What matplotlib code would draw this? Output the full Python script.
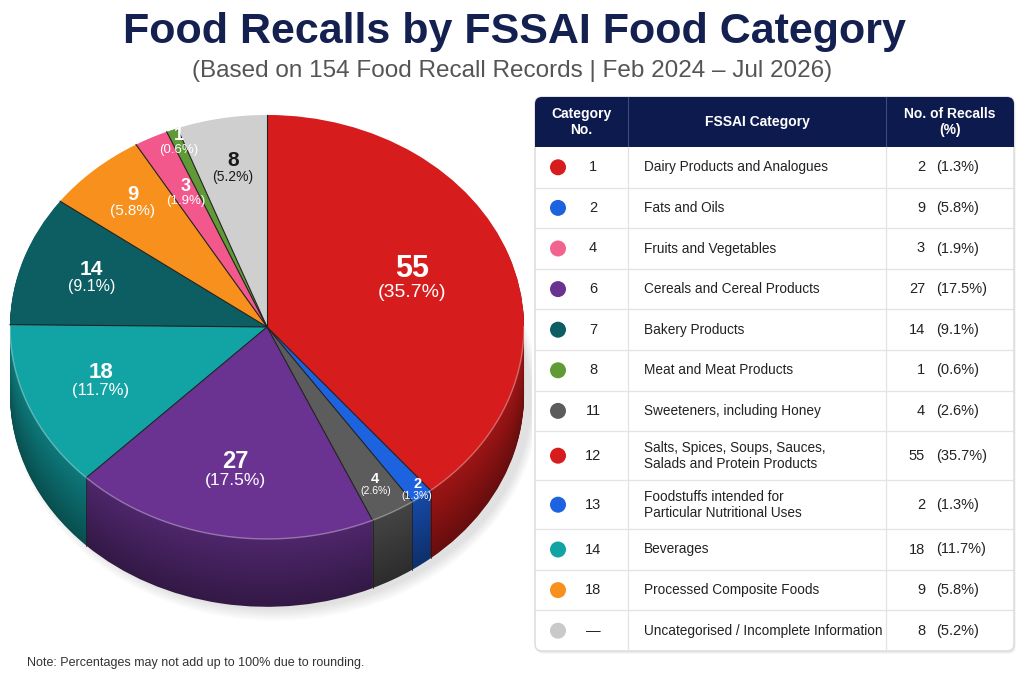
import numpy as np
import matplotlib
matplotlib.use('Agg')
import matplotlib.pyplot as plt
from matplotlib.patches import FancyBboxPatch, Rectangle, Circle, Ellipse
from matplotlib.colors import to_rgb

plt.rcParams['font.family'] = ['Liberation Sans', 'DejaVu Sans']

# ---------------- data ----------------
TOTAL_RECORDS = 154

# pie slices, clockwise from 12 o'clock
pie_counts = [55, 2, 4, 27, 18, 14, 9, 3, 1, 8]
pie_colors = ['#d61c1c', '#1d63e0', '#5c5c5c', '#6a3391', '#12a3a5',
              '#0d5e62', '#f7901c', '#f2588b', '#5f9a36', '#cfcfcf']

# table
table_cat_no = ['1', '2', '4', '6', '7', '8', '11', '12', '13', '14', '18', '—']
table_names = ['Dairy Products and Analogues',
               'Fats and Oils',
               'Fruits and Vegetables',
               'Cereals and Cereal Products',
               'Bakery Products',
               'Meat and Meat Products',
               'Sweeteners, including Honey',
               'Salts, Spices, Soups, Sauces,\nSalads and Protein Products',
               'Foodstuffs intended for\nParticular Nutritional Uses',
               'Beverages',
               'Processed Composite Foods',
               'Uncategorised / Incomplete Information']
table_counts = [2, 9, 3, 27, 14, 1, 4, 55, 2, 18, 9, 8]
table_colors = ['#d61c1c', '#1d63e0', '#f2648f', '#6a3391', '#0d5e62', '#5f9a36',
                '#5c5c5c', '#d61c1c', '#1d63e0', '#12a3a5', '#f7901c', '#c9c9c9']

title = 'Food Recalls by FSSAI Food Category'
subtitle = '(Based on 154 Food Recall Records | Feb 2024 \u2013 Jul 2026)'
note = 'Note: Percentages may not add up to 100% due to rounding.'

# ---------------- styles ----------------
num_fs = [22, 10.5, 10.5, 17, 16, 15, 14.5, 13, 13, 15]
pct_fs = [14, 7.5, 7.5, 12.5, 12, 11.5, 11, 9.5, 9.5, 10]
lab_r = [0.60, 0.97, 0.86, 0.70, 0.70, 0.72, 0.78, 0.70, 0.93, 0.75]
lab_col = ['white'] * 9 + ['#1a1a1a']
NAVY = '#0d1a4e'
TFS = 10

fig = plt.figure(figsize=(10.24, 6.83), dpi=100)
fig.patch.set_facecolor('white')

ov = fig.add_axes([0, 0, 1, 1])
ov.set_xlim(0, 1024)
ov.set_ylim(683, 0)
ov.axis('off')
ov.set_zorder(0)

ax = fig.add_axes([2.3 / 1024, 0.0867, 529.4 / 1024, 0.7605])
ax.set_zorder(1)
ax.patch.set_visible(False)

T = 0.32
# soft shadow
for k in range(6):
    ax.add_patch(Ellipse((0.03, -T - 0.015), 2.0 + 0.012 * k, 2.0 + 0.02 * k,
                         facecolor='black', alpha=0.018, edgecolor='none', zorder=0))

# side (stacked layers)
n = 70
for i in range(n, 0, -1):
    frac = i / n
    shade = 0.74 - 0.26 * frac
    cols = [tuple(np.clip(np.array(to_rgb(c)) * shade, 0, 1)) for c in pie_colors]
    wedges, _ = ax.pie(pie_counts, colors=cols, startangle=90, counterclock=False,
                       center=(0, -T * frac), radius=1,
                       wedgeprops=dict(linewidth=0))
    for w in wedges:
        w.set_zorder(1)

# top face
wedges, _ = ax.pie(pie_counts, colors=pie_colors, startangle=90, counterclock=False,
                   center=(0, 0), radius=1, wedgeprops=dict(linewidth=0))
for w in wedges:
    w.set_zorder(2)

vals = np.array(pie_counts, dtype=float)
cum = np.concatenate([[0], np.cumsum(vals)]) / vals.sum()
bounds = np.deg2rad(90 - 360 * cum[:-1])
for th in bounds:
    ax.plot([0, np.cos(th)], [0, np.sin(th)], color='#222222', lw=0.8, zorder=3)
    if np.sin(th) < -0.03:
        ax.plot([np.cos(th), np.cos(th)], [np.sin(th), np.sin(th) - T],
                color='#1a1a1a', lw=0.7, alpha=0.7, zorder=3)

t = np.linspace(np.pi, 2 * np.pi, 300)
ax.plot(np.cos(t), np.sin(t), color='white', alpha=0.35, lw=1.0, zorder=3)

mids = np.deg2rad(90 - 360 * (cum[:-1] + cum[1:]) / 2)
for k, v in enumerate(pie_counts):
    x = lab_r[k] * np.cos(mids[k])
    y = lab_r[k] * np.sin(mids[k])
    ax.text(x, y, str(v), ha='center', va='bottom', fontsize=num_fs[k],
            fontweight='bold', color=lab_col[k], zorder=5)
    ax.text(x, y, f'({v / TOTAL_RECORDS * 100:.1f}%)', ha='center', va='top',
            fontsize=pct_fs[k], color=lab_col[k], zorder=5)

ax.set_xlim(-1.03, 1.03)
ax.set_ylim(-1.4, 1.05)
ax.set_aspect('auto')
ax.axis('off')

# ---------------- titles ----------------
ov.text(514, 43, title, ha='center', va='baseline', fontsize=31,
        fontweight='bold', color='#14204f')
ov.text(512, 77, subtitle, ha='center', va='baseline', fontsize=17.5, color='#555555')
ov.text(27, 666, note, ha='left', va='baseline', fontsize=9, color='#333333')

# ---------------- table ----------------
tx0, tx1 = 535, 1014
c1, c2 = 628, 886
hy0, hy1 = 97, 147
row_h = [49 if '\n' in nm else 40.6 for nm in table_names]
edges = hy1 + np.concatenate([[0], np.cumsum(row_h)])
bottom = edges[-1]
W = tx1 - tx0

ov.add_patch(FancyBboxPatch((tx0 + 1.5, hy0 + 2.5), W, bottom - hy0,
                            boxstyle='round,pad=0,rounding_size=7',
                            fc='black', ec='none', alpha=0.07, zorder=1))
ov.add_patch(FancyBboxPatch((tx0, hy0), W, bottom - hy0,
                            boxstyle='round,pad=0,rounding_size=7',
                            fc='white', ec='#d9d9d9', lw=1, zorder=2))
ov.add_patch(FancyBboxPatch((tx0, hy0), W, hy1 - hy0,
                            boxstyle='round,pad=0,rounding_size=7',
                            fc=NAVY, ec='none', zorder=3))
ov.add_patch(Rectangle((tx0, hy0 + 25), W, hy1 - hy0 - 25, fc=NAVY, ec='none', zorder=3))
for cx in (c1, c2):
    ov.plot([cx, cx], [hy0, hy1], color='#3a4b80', lw=0.8, zorder=4)
    ov.plot([cx, cx], [hy1, bottom], color='#e3e3e3', lw=0.9, zorder=4)

hc = (hy0 + hy1) / 2
ov.text((tx0 + c1) / 2, hc, 'Category\nNo.', ha='center', va='center', fontsize=TFS,
        fontweight='bold', color='white', linespacing=1.1, zorder=5)
ov.text((c1 + c2) / 2, hc, 'FSSAI Category', ha='center', va='center', fontsize=TFS,
        fontweight='bold', color='white', zorder=5)
ov.text((c2 + tx1) / 2, hc, 'No. of Recalls\n(%)', ha='center', va='center', fontsize=TFS,
        fontweight='bold', color='white', linespacing=1.1, zorder=5)

for i in range(len(table_names)):
    yc = (edges[i] + edges[i + 1]) / 2
    if i < len(table_names) - 1:
        ov.plot([tx0, tx1], [edges[i + 1]] * 2, color='#e3e3e3', lw=0.9, zorder=4)
    ov.add_patch(Circle((558, yc), 8, fc=table_colors[i], ec='none', zorder=5))
    ov.text(593, yc, table_cat_no[i], ha='center', va='center', fontsize=TFS + 0.5,
            color='#222222', zorder=5)
    ov.text(644, yc, table_names[i], ha='left', va='center', fontsize=TFS - 0.2,
            color='#222222', linespacing=1.15, zorder=5)
    ov.text(925, yc, str(table_counts[i]), ha='right', va='center', fontsize=TFS + 0.5,
            color='#222222', zorder=5)
    ov.text(936, yc, f'({table_counts[i] / TOTAL_RECORDS * 100:.1f}%)', ha='left',
            va='center', fontsize=TFS + 0.5, color='#222222', zorder=5)

fig.savefig('out.png', dpi=100, facecolor='white')
